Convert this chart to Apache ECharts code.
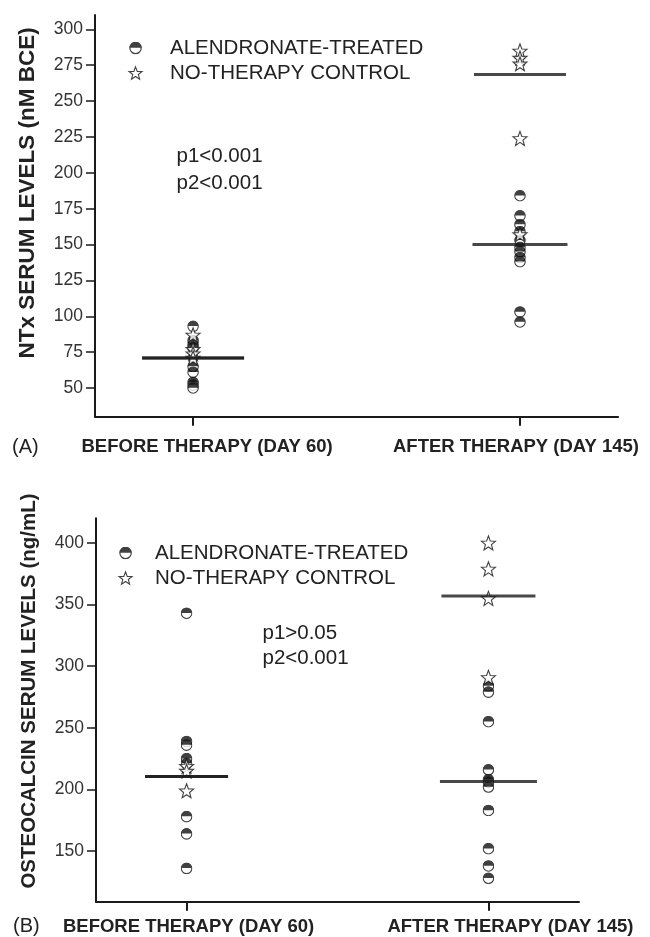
<!DOCTYPE html>
<html>
<head>
<meta charset="utf-8">
<script src="https://cdn.jsdelivr.net/npm/echarts@6/dist/echarts.min.js"></script>
<style>
html,body{margin:0;padding:0;background:#fff;}
#chart{width:650px;height:937px;}
</style>
</head>
<body>
<div id="chart"></div>
<script>
// ---- data ----
const categories = ['BEFORE THERAPY (DAY 60)', 'AFTER THERAPY (DAY 145)'];
const seriesNames = ['ALENDRONATE-TREATED', 'NO-THERAPY CONTROL'];

// Panel A: NTx serum levels (nM BCE)
const ntxTicks = [50, 75, 100, 125, 150, 175, 200, 225, 250, 275, 300];
const ntxAlendBefore = [93, 83, 80, 78, 65, 61, 54, 52, 50];
const ntxAlendAfter = [184, 170, 164, 159, 153, 148, 145, 141, 138, 103, 96];
const ntxControlBefore = [87, 77, 74, 71];
const ntxControlAfter = [285, 280, 276, 224, 157];
const ntxMedianAlend = [71, 150];
const ntxMedianControl = [71, 268.5];
const ntxPText = ['p1<0.001', 'p2<0.001'];

// Panel B: Osteocalcin serum levels (ng/mL)
const oscTicks = [150, 200, 250, 300, 350, 400];
const oscAlendBefore = [343, 239, 236, 225, 221, 178, 164, 136];
const oscAlendAfter = [284, 279, 255, 216, 208, 206, 202, 183, 152, 138, 128];
const oscControlBefore = [219, 215, 199];
const oscControlAfter = [400, 379, 355, 291];
const oscMedianAlend = [210.5, 206.5];
const oscMedianControl = [210.5, 357];
const oscPText = ['p1>0.05', 'p2<0.001'];

// ---- styles ----
const FONT = "'Liberation Sans', Arial, Helvetica, sans-serif";
const INK = '#1a1a1a';
const TXT = '#222';
const circleSvg = "<svg xmlns='http://www.w3.org/2000/svg' width='24' height='24' viewBox='0 0 24 24'>" +
  "<circle cx='12' cy='12' r='10.5' fill='#ffffff' stroke='#111111' stroke-width='2.2'/>" +
  "<path d='M1.5,11.4 A10.5,10.5 0 0 1 22.5,11.4 Z' fill='#111111'/></svg>";
const circleIcon = 'image://data:image/svg+xml;charset=utf-8,' + encodeURIComponent(circleSvg);
const starIcon = 'path://M12,1 L14.9,8.6 L23,8.9 L16.7,14 L18.9,21.8 L12,17.3 L5.1,21.8 L7.3,14 L1,8.9 L9.1,8.6 Z';
const starStyle = { color: '#ffffff', borderColor: '#111', borderWidth: 1.1 };
const medianWidthsA = {alend: [102, 95], control: [102, 92]};
const medianWidthsB = {alend: [83, 97], control: [83, 94]};

function pts(x, arr) { return arr.map(v => [x, v]); }
function medianData(vals, widths) {
  return vals.map((v, i) => ({ value: [i + 1, v], symbolSize: [widths[i], 3] }));
}

function circleSeries(name, axis, before, after) {
  return {
    type: 'scatter', name: name, xAxisIndex: axis, yAxisIndex: axis,
    symbol: circleIcon, symbolSize: 12, z: 2,
    data: pts(1, before).concat(pts(2, after))
  };
}
function starSeries(name, axis, before, after) {
  return {
    type: 'scatter', name: name, xAxisIndex: axis, yAxisIndex: axis,
    symbol: starIcon, symbolSize: 14, z: 3,
    itemStyle: starStyle,
    data: pts(1, before).concat(pts(2, after))
  };
}
function lineSeries(axis, data) {
  return {
    type: 'scatter', xAxisIndex: axis, yAxisIndex: axis, symbol: 'rect', z: 4,
    itemStyle: { color: INK }, data: data, silent: true
  };
}

function xAxisDef(grid, rich, margin) {
  return {
    gridIndex: grid, type: 'value', min: 0.7, max: 2.3,
    splitLine: { show: false },
    axisLine: { show: true, onZero: false, lineStyle: { color: INK, width: 2 } },
    axisTick: { show: true, customValues: [1, 2], length: 9, lineStyle: { color: INK, width: 2 } },
    axisLabel: {
      customValues: [1, 2], margin: margin,
      formatter: v => '{c' + (v - 1) + '|' + categories[v - 1] + '}',
      rich: rich
    }
  };
}
function yAxisDef(grid, min, max, ticks, name, nameSize, nameGap, namePad) {
  return {
    gridIndex: grid, type: 'value', min: min, max: max,
    splitLine: { show: false },
    axisLine: { show: true, onZero: false, lineStyle: { color: INK, width: 2 } },
    axisTick: { show: true, customValues: ticks, length: 9, lineStyle: { color: INK, width: 1.5 } },
    axisLabel: { customValues: ticks, margin: 12, color: '#333', fontSize: 17.5, fontFamily: FONT },
    name: name, nameLocation: 'middle', nameRotate: 90, nameGap: nameGap,
    nameTextStyle: { fontFamily: FONT, fontWeight: 'bold', fontSize: nameSize, color: TXT, padding: namePad }
  };
}
const catStyle = { fontFamily: FONT, fontWeight: 'bold', fontSize: 18.5, color: TXT, lineHeight: 20 };
const richA = {
  c0: Object.assign({ padding: [0, 0, 0, 28] }, catStyle),
  c1: Object.assign({ padding: [0, 8, 0, 0] }, catStyle)
};
const richB = {
  c0: Object.assign({ padding: [0, 0, 0, 4] }, catStyle),
  c1: Object.assign({ padding: [0, 0, 0, 44] }, catStyle)
};

function legendDef(left, top, textPadLeft) {
  return {
    orient: 'vertical', left: left, top: top, padding: 0,
    itemWidth: 13, itemHeight: 13, itemGap: 3, selectedMode: false,
    textStyle: { fontFamily: FONT, fontSize: 20.5, color: TXT, lineHeight: 22, padding: [0, 0, 0, textPadLeft] },
    data: [
      { name: seriesNames[0], icon: circleIcon },
      { name: seriesNames[1], icon: starIcon, itemStyle: starStyle }
    ]
  };
}
function textEl(x, y, str, size, weight) {
  return {
    type: 'text', x: x, y: y,
    style: { text: str, fontFamily: FONT, fontSize: size, fontWeight: weight || 'normal', fill: TXT, verticalAlign: 'middle', align: 'left' }
  };
}

const option = {
  animation: false,
  backgroundColor: '#fff',
  grid: [
    { left: 95, top: 15, width: 534, height: 401.7 },
    { left: 96, top: 518.3, width: 483, height: 383.4 }
  ],
  xAxis: [ xAxisDef(0, richA, 20), xAxisDef(1, richB, 15) ],
  yAxis: [
    yAxisDef(0, 30, 310, ntxTicks, 'NTx SERUM LEVELS (nM BCE)', 22.5, 56, [0, 0, 0, 46]),
    yAxisDef(1, 109, 420, oscTicks, 'OSTEOCALCIN SERUM LEVELS (ng/mL)', 20.5, 56, [0, 0, 0, 38])
  ],
  legend: [ legendDef(128.5, 37, 23), legendDef(118.5, 542, 18) ],
  graphic: [
    textEl(176.5, 156.7, ntxPText[0], 20.5),
    textEl(176.5, 183.3, ntxPText[1], 20.5),
    textEl(262.5, 633.3, oscPText[0], 20.5),
    textEl(262.5, 658.3, oscPText[1], 20.5),
    textEl(12, 447, '(A)', 20),
    textEl(13, 926.7, '(B)', 20)
  ],
  series: [
    circleSeries(seriesNames[0], 0, ntxAlendBefore, ntxAlendAfter),
    starSeries(seriesNames[1], 0, ntxControlBefore, ntxControlAfter),
    lineSeries(0, medianData(ntxMedianAlend, medianWidthsA.alend).concat(medianData(ntxMedianControl, medianWidthsA.control))),
    circleSeries(seriesNames[0], 1, oscAlendBefore, oscAlendAfter),
    starSeries(seriesNames[1], 1, oscControlBefore, oscControlAfter),
    lineSeries(1, medianData(oscMedianAlend, medianWidthsB.alend).concat(medianData(oscMedianControl, medianWidthsB.control)))
  ]
};

const chart = echarts.init(document.getElementById('chart'), null, { renderer: 'canvas' });
chart.setOption(option);
</script>
</body>
</html>
